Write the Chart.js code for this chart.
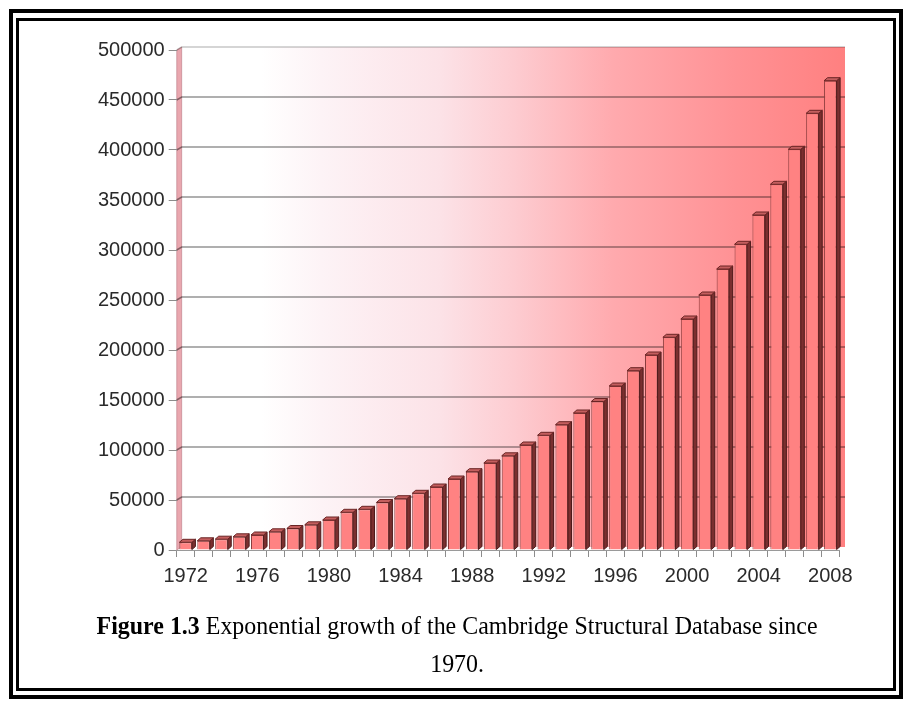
<!DOCTYPE html>
<html>
<head>
<meta charset="utf-8">
<script src="https://cdn.jsdelivr.net/npm/chart.js@4.4.1/dist/chart.umd.min.js"></script>
<style>
  html, body { margin: 0; padding: 0; background: #fff; }
  #wrap { position: relative; width: 914px; height: 702px; overflow: hidden; background: #fff; }
  #chart { position: absolute; left: 0; top: 0; }
  .frame { position: absolute; box-sizing: border-box; border-style: solid; border-color: #000; }
  .frame.outer { left: 9px; top: 9px; width: 894px; height: 690px; border-width: 4px; }
  .frame.inner { left: 16px; top: 18px; width: 880px; height: 673px; border-width: 3px; }
  #caption {
    position: absolute; left: 0; top: 607px; width: 914px;
    text-align: center; white-space: nowrap;
    font-family: "Liberation Serif", "Times New Roman", serif;
    font-size: 26px; line-height: 38px; color: #000;
    transform: scaleX(0.92); transform-origin: 458px 0;
  }
</style>
</head>
<body>
<div id="wrap">
  <div class="frame outer"></div>
  <div class="frame inner"></div>
  <canvas id="chart" width="914" height="702"></canvas>
  <div id="caption"><b>Figure 1.3</b> Exponential growth of the Cambridge Structural Database since<br>1970.</div>
</div>
<script>
// Year-end size of the Cambridge Structural Database (number of entries)
const years = [
  '1972','1973','1974','1975','1976','1977','1978','1979','1980','1981',
  '1982','1983','1984','1985','1986','1987','1988','1989','1990','1991',
  '1992','1993','1994','1995','1996','1997','1998','1999','2000','2001',
  '2002','2003','2004','2005','2006','2007','2008'
];
const entries = [
  7700, 9200, 10800, 13200, 15000, 18200, 21500, 25200, 30000, 37700,
  40700, 47500, 51300, 56700, 63000, 71000, 78300, 87000, 94200, 105000,
  114700, 125300, 137000, 148500, 164000, 179300, 195000, 212700, 231000, 255000,
  281000, 305700, 335000, 365700, 400700, 436700, 469300
];
const labeledYears = ['1972','1976','1980','1984','1988','1992','1996','2000','2004','2008'];
const yTicks = [0, 50000, 100000, 150000, 200000, 250000, 300000, 350000, 400000, 450000, 500000];

// 3-D look: offsets of the back wall and of each column's depth
const WALL_DX = 5, WALL_DY = 3;
const BAR_DX = 3.5, BAR_DY = 3;

const wallPlugin = {
  id: 'wall3d',
  beforeDraw(chart) {
    const { ctx, chartArea: a, scales: { y } } = chart;
    const l = a.left + WALL_DX, r = a.right + 5.7;
    const t = a.top - WALL_DY, b = a.bottom - WALL_DY;
    ctx.save();
    const g = ctx.createLinearGradient(l, 0, r, 0);
    g.addColorStop(0.00, 'rgb(255,255,255)');
    g.addColorStop(0.12, 'rgb(255,255,255)');
    g.addColorStop(0.21, 'rgb(253,243,246)');
    g.addColorStop(0.39, 'rgb(252,226,231)');
    g.addColorStop(0.50, 'rgb(253,204,209)');
    g.addColorStop(0.65, 'rgb(255,170,174)');
    g.addColorStop(0.83, 'rgb(255,146,149)');
    g.addColorStop(1.00, 'rgb(255,128,128)');
    ctx.fillStyle = g;
    ctx.fillRect(l, t, r - l, b - t);

    // side wall at the value axis
    ctx.fillStyle = '#e9a7af';
    ctx.beginPath();
    ctx.moveTo(a.left, a.top);
    ctx.lineTo(l, t);
    ctx.lineTo(l, b);
    ctx.lineTo(a.left, a.bottom);
    ctx.closePath();
    ctx.fill();
    ctx.strokeStyle = 'rgba(150,70,80,0.35)';
    ctx.lineWidth = 1;
    ctx.stroke();

    // gridlines on the back wall
    ctx.lineWidth = 1.5;
    yTicks.forEach(v => {
      if (v === 0) return;
      const py = y.getPixelForValue(v);
      ctx.strokeStyle = v === yTicks[yTicks.length - 1] ? 'rgba(0,0,0,0.22)' : 'rgba(0,0,0,0.42)';
      ctx.beginPath();
      ctx.moveTo(a.left, py);
      ctx.lineTo(l, py - WALL_DY);
      ctx.lineTo(r, py - WALL_DY);
      ctx.stroke();
    });
    ctx.restore();
  },
  afterDatasetsDraw(chart) {
    const { ctx } = chart;
    const meta = chart.getDatasetMeta(0);
    ctx.save();
    ctx.lineWidth = 1;
    ctx.lineJoin = 'round';
    meta.data.forEach(el => {
      const { x, y, base, width } = el.getProps(['x', 'y', 'base', 'width'], true);
      const left = x - width / 2, right = x + width / 2;
      // right-hand side face
      ctx.fillStyle = '#7a2f2f';
      ctx.strokeStyle = '#4e1a1a';
      ctx.beginPath();
      ctx.moveTo(right, y);
      ctx.lineTo(right + BAR_DX, y - BAR_DY);
      ctx.lineTo(right + BAR_DX, base - BAR_DY);
      ctx.lineTo(right, base);
      ctx.closePath();
      ctx.fill();
      ctx.stroke();
      // top face
      ctx.fillStyle = '#c45e5e';
      ctx.strokeStyle = '#6a2424';
      ctx.beginPath();
      ctx.moveTo(left, y);
      ctx.lineTo(left + BAR_DX, y - BAR_DY);
      ctx.lineTo(right + BAR_DX, y - BAR_DY);
      ctx.lineTo(right, y);
      ctx.closePath();
      ctx.fill();
      ctx.stroke();
    });
    ctx.restore();
  }
};

const tickFont = { family: '"Liberation Sans", Arial, sans-serif', size: 20 };

new Chart(document.getElementById('chart'), {
  type: 'bar',
  data: {
    labels: years,
    datasets: [{
      data: entries,
      backgroundColor: '#ff8282',
      borderColor: '#8a3c3c',
      borderWidth: 1,
      borderSkipped: 'bottom',
      barPercentage: 0.70,
      categoryPercentage: 1.0
    }]
  },
  options: {
    responsive: false,
    animation: false,
    devicePixelRatio: 1,
    layout: { padding: { left: 76.7, right: 74.7, top: 50, bottom: 92 } },
    plugins: { legend: { display: false }, tooltip: { enabled: false } },
    scales: {
      x: {
        offset: true,
        afterFit(scale) { scale.height = 60; },
        grid: { display: true, drawOnChartArea: false, drawTicks: true, tickLength: 7, offset: true, color: '#8c8c8c' },
        border: { display: true, color: '#9a9a9a', width: 1 },
        ticks: {
          autoSkip: false, maxRotation: 0, minRotation: 0, padding: 7,
          color: '#2a2a2a', font: tickFont,
          callback(value, index) { return labeledYears.includes(years[index]) ? years[index] : ''; }
        }
      },
      y: {
        min: 0, max: 500000,
        afterFit(scale) { scale.width = 100; },
        afterBuildTicks(scale) { scale.ticks = yTicks.map(v => ({ value: v })); },
        grid: { display: true, drawOnChartArea: false, drawTicks: true, tickLength: 8, color: '#8c8c8c' },
        border: { display: false },
        ticks: {
          padding: 4, color: '#2a2a2a', font: tickFont,
          callback(value) { return String(value); }
        }
      }
    }
  },
  plugins: [wallPlugin]
});
</script>
</body>
</html>
